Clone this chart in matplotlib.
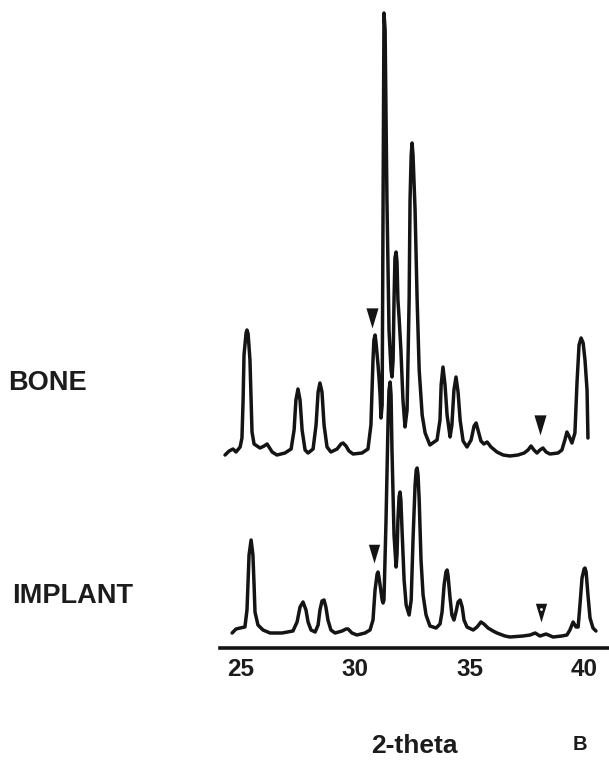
import matplotlib
matplotlib.use("Agg")
import matplotlib.pyplot as plt
import numpy as np

plt.rcParams['font.family'] = ['Liberation Sans', 'DejaVu Sans']

# ---- data (2-theta in degrees, intensity in arbitrary units) ----
bone_2theta = [24.30, 24.48, 24.65, 24.78, 24.96, 25.04, 25.09, 25.13, 25.22, 25.26, 25.31,
               25.39, 25.44, 25.48, 25.57, 25.83, 26.01, 26.14, 26.36, 26.57, 26.92, 27.19,
               27.32, 27.40, 27.49, 27.58, 27.67, 27.80, 27.93, 28.15, 28.28, 28.37, 28.45,
               28.54, 28.63, 28.76, 28.93, 29.20, 29.37, 29.46, 29.59, 29.72, 29.90, 30.29,
               30.55, 30.68, 30.77, 30.81, 30.86, 30.90, 30.99, 31.03, 31.08, 31.12, 31.17,
               31.21, 31.25, 31.30, 31.38, 31.47, 31.56, 31.60, 31.65, 31.69, 31.73, 31.78,
               31.82, 31.86, 31.91, 31.99, 32.08, 32.17, 32.26, 32.35, 32.39, 32.44, 32.48,
               32.52, 32.61, 32.70, 32.79, 32.92, 33.05, 33.26, 33.44, 33.57, 33.70, 33.75,
               33.83, 33.92, 34.01, 34.14, 34.22, 34.31, 34.40, 34.49, 34.58, 34.71, 34.88,
               35.06, 35.19, 35.28, 35.36, 35.49, 35.62, 35.76, 35.93, 36.19, 36.46, 36.76,
               37.11, 37.38, 37.55, 37.68, 37.81, 37.94, 38.07, 38.20, 38.34, 38.51, 38.86,
               39.03, 39.16, 39.25, 39.34, 39.47, 39.60, 39.69, 39.78, 39.87, 39.96, 40.04,
               40.13, 40.17]
bone_int = [193, 197, 199, 196, 201, 210, 248, 293, 315, 318, 314,
            288, 248, 216, 204, 200, 202, 204, 196, 193, 195, 199,
            218, 248, 259, 248, 218, 198, 195, 199, 223, 256, 265,
            256, 223, 201, 196, 199, 204, 205, 202, 197, 194, 195,
            199, 223, 288, 308, 313, 306, 283, 271, 253, 230, 243,
            448, 635, 618, 448, 318, 278, 271, 288, 348, 390, 396,
            386, 348, 331, 298, 248, 221, 238, 348, 448, 493, 505,
            493, 438, 348, 278, 233, 215, 203, 206, 208, 228, 263,
            281, 263, 233, 211, 223, 258, 271, 256, 228, 207, 201,
            208, 222, 225, 218, 207, 204, 206, 201, 196, 193, 192,
            193, 195, 198, 202, 198, 195, 198, 200, 196, 194, 195,
            198, 208, 216, 212, 205, 215, 265, 303, 310, 305, 288,
            258, 210]

implant_2theta = [24.61, 24.78, 24.96, 25.17, 25.26, 25.31, 25.35, 25.44, 25.52, 25.57,
                  25.61, 25.74, 25.96, 26.27, 26.79, 27.27, 27.45, 27.58, 27.71, 27.84,
                  27.93, 28.06, 28.24, 28.37, 28.45, 28.54, 28.63, 28.71, 28.80, 28.93,
                  29.11, 29.42, 29.59, 29.68, 29.85, 30.07, 30.42, 30.64, 30.77, 30.86,
                  30.95, 30.99, 31.03, 31.08, 31.17, 31.21, 31.25, 31.34, 31.43, 31.47,
                  31.52, 31.56, 31.60, 31.69, 31.78, 31.82, 31.86, 31.91, 31.95, 31.99,
                  32.04, 32.13, 32.22, 32.35, 32.44, 32.52, 32.61, 32.66, 32.70, 32.74,
                  32.79, 32.87, 32.96, 33.09, 33.26, 33.53, 33.70, 33.79, 33.88, 33.96,
                  34.01, 34.05, 34.14, 34.22, 34.31, 34.40, 34.49, 34.58, 34.67, 34.75,
                  34.88, 35.15, 35.32, 35.49, 35.62, 35.80, 36.02, 36.19, 36.54, 36.76,
                  37.33, 37.64, 37.86, 38.07, 38.34, 38.64, 39.03, 39.25, 39.38, 39.52,
                  39.65, 39.74, 39.82, 39.91, 40.00, 40.04, 40.09, 40.17, 40.26, 40.39,
                  40.52]
implant_int = [15, 19, 20, 21, 38, 68, 93, 108, 93, 63,
               36, 23, 18, 15, 15, 17, 26, 41, 46, 38,
               26, 18, 16, 23, 38, 47, 48, 41, 28, 18,
               15, 17, 19, 19, 15, 13, 15, 18, 28, 58,
               74, 76, 71, 63, 48, 45, 48, 128, 228, 258,
               266, 253, 198, 113, 81, 93, 128, 151, 156, 148,
               118, 68, 43, 33, 48, 108, 163, 178, 180, 173,
               148, 88, 53, 33, 22, 20, 24, 36, 63, 76,
               78, 73, 50, 33, 28, 36, 46, 48, 41, 28,
               21, 18, 21, 26, 24, 20, 17, 15, 12, 11,
               12, 13, 15, 12, 14, 11, 12, 13, 18, 26,
               21, 21, 43, 70, 79, 80, 76, 53, 30, 20,
               17]

# marked reflections (arrowheads): 2-theta and intensity of the tip
bone_marks_2theta = [30.73, 38.07]
bone_marks_int = [320, 213]
implant_marks_2theta = [30.82, 38.12]
implant_marks_int = [85, 26]

xticks = [25, 30, 35, 40]
sample_labels = ["BONE", "IMPLANT"]
xlabel = "2-theta"
panel_label = "B"

# ---- figure ----
W, H = 609, 762
fig = plt.figure(figsize=(W / 100, H / 100), dpi=100)
fig.patch.set_facecolor('white')
ax = fig.add_axes([220 / W, 114 / H, 389 / W, 648 / H])
ax.set_facecolor('none')

ink = '#141414'
for xs, ys in [(bone_2theta, bone_int), (implant_2theta, implant_int)]:
    ax.plot(xs, ys, color=ink, lw=2.5, solid_joinstyle='round', solid_capstyle='round')

tri = [(-0.3, 1.0), (0.3, 1.0), (0.0, 0.0)]
ax.plot(bone_marks_2theta, bone_marks_int, linestyle='none', marker=tri, ms=29,
        color=ink, markeredgewidth=0)
ax.plot(implant_marks_2theta, implant_marks_int, linestyle='none', marker=tri, ms=27,
        color=ink, markeredgewidth=0)
# small light dot inside the lower-right arrowhead
ax.plot(implant_marks_2theta[1:], [implant_marks_int[1] + 13], linestyle='none',
        marker='o', ms=2.0, color='white', markeredgewidth=0)

ax.set_xlim(24.08, 41.09)
ax.set_ylim(0, 648)
for s in ['top', 'right', 'left']:
    ax.spines[s].set_visible(False)
ax.spines['bottom'].set_linewidth(2.6)
ax.spines['bottom'].set_color(ink)
ax.set_yticks([])
ax.set_xticks(xticks)
ax.set_xticklabels([str(t) for t in xticks])
ax.tick_params(axis='x', length=0, pad=7, labelsize=17.5, labelcolor='#1c1c1c')
for lab in ax.get_xticklabels():
    lab.set_fontweight('bold')

fig.text(8 / W, 1 - 390 / H, sample_labels[0], fontsize=19.5, fontweight='bold',
         color='#1c1c1c', ha='left', va='baseline')
fig.text(12 / W, 1 - 603 / H, sample_labels[1], fontsize=19.5, fontweight='bold',
         color='#1c1c1c', ha='left', va='baseline')
fig.text(414 / W, 1 - 753 / H, xlabel, fontsize=19, fontweight='bold',
         color='#1c1c1c', ha='center', va='baseline')
fig.text(580 / W, 1 - 750 / H, panel_label, fontsize=14.5, fontweight='bold',
         color='#1c1c1c', ha='center', va='baseline')

fig.savefig('out.png', dpi=100, facecolor='white')
